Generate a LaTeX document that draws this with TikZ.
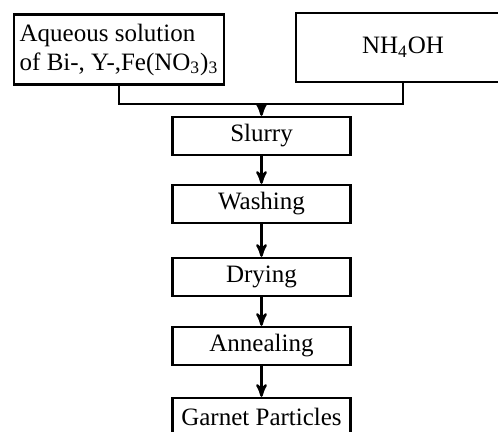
\documentclass[tikz,border=0pt]{standalone}
\usepackage{fontspec}
\setmainfont{Liberation Serif}
\usetikzlibrary{arrows}
\tikzset{
  flownode/.style = {rectangle, draw=black, line width=1.2pt, inner sep=1pt,
    font=\fontsize{12.5}{14.5}\selectfont},
  src_l/.style = {flownode, align=left, minimum width=105pt,
    minimum height=35pt},% source, left
  src_r/.style = {flownode, minimum width=107pt,
    minimum height=34.5pt},% source, right
  step_n/.style = {flownode, minimum width=89pt,
    minimum height=19pt}% process step
}
\begin{document}
\begin{tikzpicture}[->,>=stealth',x=0.5pt,y=-0.5pt,line width=1.2pt]
	\useasboundingbox (0,0) rectangle (498,432);
	\node [src_l] (aq) at (119,49.5) {Aqueous solution\\of Bi-, Y-,Fe(NO\textsubscript{3})\textsubscript{3}};
	\node [src_r] (nh) at (403,47.5) {NH\textsubscript{4}OH};
	\coordinate (merge) at (261.5,104);

	\node [step_n] (slurry)    at (261.5,136) {Slurry};
	\node [step_n] (washing)   at (261.5,204) {Washing};
	\node [step_n] (drying)    at (261.5,277) {Drying};
	\node [step_n] (annealing) at (261.5,346) {Annealing};
	\node [step_n] (garnet)    at (261.5,417) {Garnet Particles};

	\draw [-] (aq.south) |- (merge);
	\draw [-] (nh.south) |- (merge);
	\draw (merge) -- (slurry);
	\foreach \from/\to in {slurry/washing,washing/drying,drying/annealing,annealing/garnet}
	  \draw (\from) -- (\to);
\end{tikzpicture}
\end{document}
